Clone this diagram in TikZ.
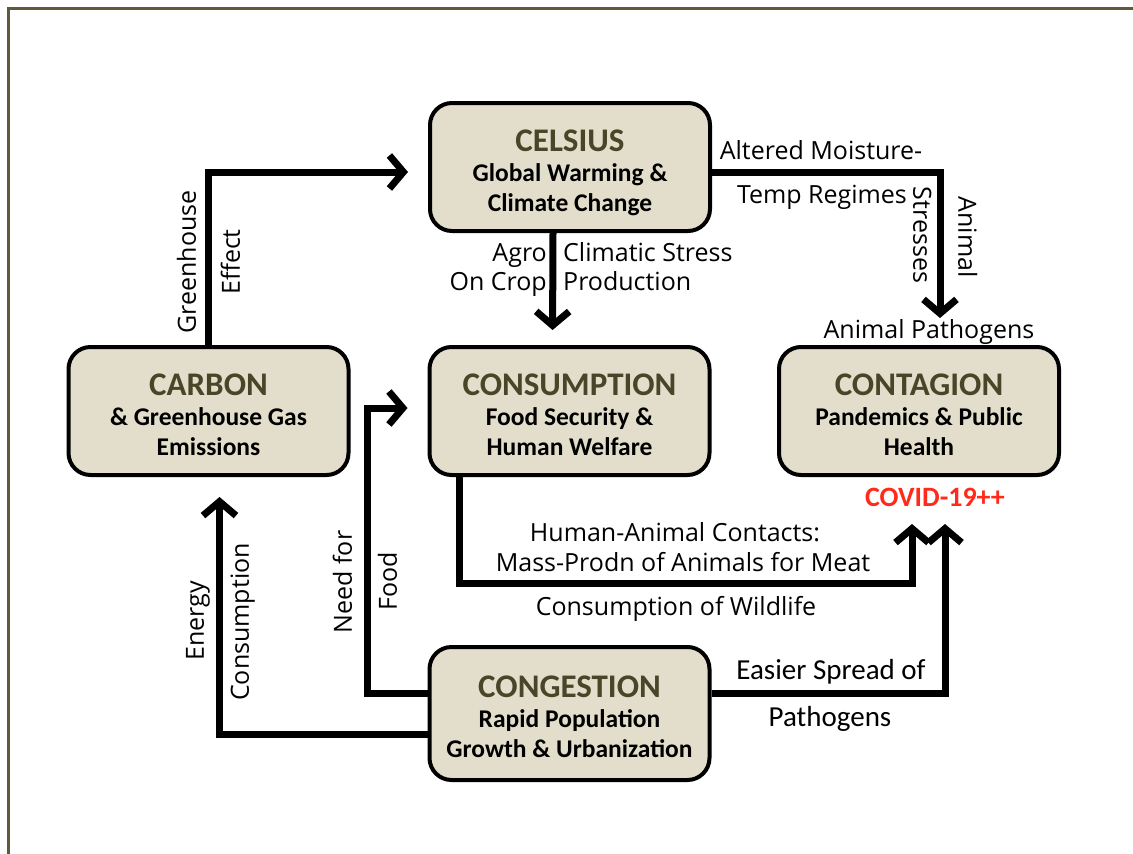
\documentclass[tikz,border=0pt]{standalone}
\usepackage{fontspec}
\setmainfont{Open Sans}
\newfontfamily\calfont{Carlito}
\usetikzlibrary{arrows.meta}
\definecolor{boxfill}{HTML}{E3DDCB}
\definecolor{titlecol}{HTML}{4A4528}
\definecolor{framecol}{HTML}{5F5A3B}
\definecolor{covidred}{HTML}{FF2A1A}
\newcommand\boxlines[3]{{\fontsize{33}{30}\selectfont\color{titlecol}#1}\\#2\\#3}
\tikzset{
  box/.style={draw=black, line width=4pt, fill=boxfill, rounded corners=22pt,
    minimum width=280pt, minimum height=128pt, align=center, inner sep=0pt,
    text height=88pt, text depth=0pt,
    font=\calfont\bfseries\fontsize{25.5}{30}\selectfont},
  arr/.style={line width=7pt, -{Straight Barb[length=14pt,width=33pt]}},
  lab/.style={font=\fontsize{25}{30}\selectfont, inner sep=0pt, text height=17.5pt, text depth=0pt},
  clab/.style={font=\calfont\fontsize{29}{34}\selectfont, inner sep=0pt, text height=18.5pt, text depth=0pt},
}
\begin{document}
\begin{tikzpicture}[x=1pt,y=-1pt]
\useasboundingbox (0,0) rectangle (1133,854);
\fill[white] (0,0) rectangle (1133,854);
\draw[framecol, line width=3pt] (8,854) -- (8,8) -- (1133,8);

\node[box] (CELSIUS) at (570,167) {\boxlines{CELSIUS}{Global Warming \&}{Climate Change}};
\node[box] (CARBON) at (208.5,411) {\boxlines{CARBON}{\& Greenhouse Gas}{Emissions}};
\node[box] (CONSUMPTION) at (569.5,411) {\boxlines{CONSUMPTION}{Food Security \&}{Human Welfare}};
\node[box] (CONTAGION) at (919,411) {\boxlines{CONTAGION}{Pandemics \& Public}{Health}};
\node[box, minimum height=133pt, text height=87pt] (CONGESTION) at (569.5,713.5) {\boxlines{CONGESTION}{Rapid Population}{Growth \& Urbanization}};

\node[font=\calfont\bfseries\fontsize{28}{33}\selectfont, text=covidred, inner sep=0pt, text height=18pt, text depth=0pt] (covid) at (935,497) {COVID-19++};

\coordinate (k4a) at (459.5,583);
\coordinate (k4b) at (912,583);
\coordinate (k6) at (367,408);

\draw[arr, shorten >=20pt] (CARBON.north) |- ([yshift=-5pt]CELSIUS.west);
\draw[arr, shorten >=15pt] ([xshift=-17pt]CELSIUS.south) -- ([xshift=-17pt]CONSUMPTION.north);
\draw[arr, shorten >=27pt] ([yshift=-5pt]CELSIUS.east) -| ([xshift=21pt]CONTAGION.north);
\draw[arr, shorten >=47pt] ([xshift=-110pt]CONSUMPTION.south) -- (k4a) -- (k4b) -- ([xshift=-7pt]CONTAGION.south);
\draw[arr, shorten >=47pt] ([yshift=20pt]CONGESTION.east) -| ([xshift=26pt]CONTAGION.south);
\draw[arr, shorten >=20pt] ([yshift=20pt]CONGESTION.west) -| (k6) -- ([yshift=3pt]CONSUMPTION.west);
\draw[arr, shorten >=20pt] ([yshift=-21pt]CONGESTION.west) -| ([xshift=11pt]CARBON.south);

% labels
\node[lab, rotate=90] (l1a) at (187,262) {Greenhouse};
\node[lab, rotate=90] (l1b) at (231,262) {Effect};
\node[lab, anchor=east] (l2a) at (547,253) {Agro};
\node[lab, anchor=east] (l2b) at (547,282) {On Crop};
\node[lab, anchor=west] (l2c) at (563,253) {Climatic Stress};
\node[lab, anchor=west] (l2d) at (563,282) {Production};
\node[lab] (l3a) at (821,151) {Altered Moisture-};
\node[lab] (l3b) at (822,195) {Temp Regimes};
\node[lab, rotate=-90] (l3c) at (922,235) {Stresses};
\node[lab, rotate=-90] (l3d) at (967,237) {Animal};
\node[lab] (l3e) at (929,330) {Animal Pathogens};
\node[lab] (l4a) at (675,533) {Human-Animal Contacts:};
\node[lab] (l4b) at (683,563) {Mass-Prodn of Animals for Meat};
\node[lab] (l4c) at (676,607) {Consumption of Wildlife};
\node[clab] (l5a) at (831,670) {Easier Spread of};
\node[clab] (l5b) at (830,717) {Pathogens};
\node[lab, rotate=90] (l6a) at (343,582) {Need for};
\node[lab, rotate=90] (l6b) at (388,581) {Food};
\node[lab, rotate=90] (l7a) at (195,621) {Energy};
\node[lab, rotate=90] (l7b) at (240,622) {Consumption};
\end{tikzpicture}
\end{document}
